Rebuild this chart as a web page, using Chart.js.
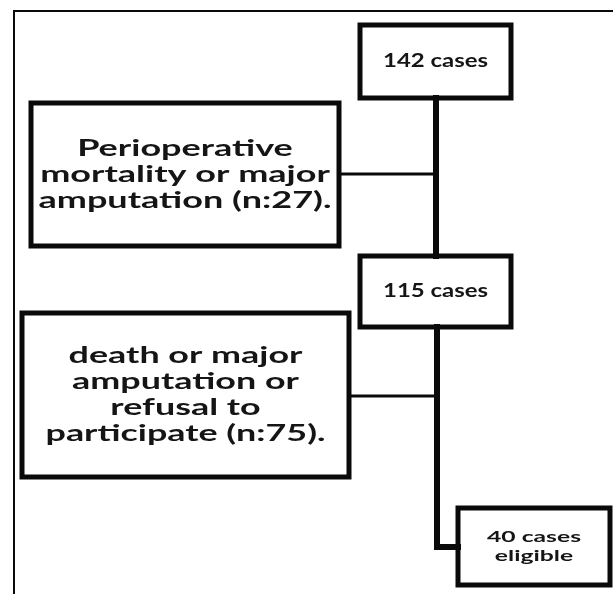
<!DOCTYPE html>
<html>
<head>
<meta charset="utf-8">
<script src="https://cdn.jsdelivr.net/npm/chart.js@4/dist/chart.umd.min.js"></script>
<style>
    body { margin: 0; background: #fff; }
    #wrap { width: 613px; height: 594px; }
</style>
</head>
<body>
<div id="wrap"><canvas id="flow-chart" width="613" height="594"></canvas></div>
<script>
// data: patients at each stage and patients excluded between stages
const stageCounts = [142, 115, 40];
const stageSuffix = ['cases', 'cases', 'cases eligible'];
const exclusionCounts = [27, 75];
const exclusionLines = [
    ['Perioperative', 'mortality or major', 'amputation'],
    ['death or major', 'amputation or', 'refusal to', 'participate']
];

// layout (canvas pixels, y down)
const stageBoxes = [
    { x1: 360, y1: 25, x2: 511, y2: 98 },
    { x1: 360, y1: 256, x2: 511, y2: 327 },
    { x1: 458, y1: 508, x2: 610, y2: 585 }
];
const exclusionBoxes = [
    { x1: 31, y1: 103, x2: 339, y2: 246 },
    { x1: 22, y1: 313, x2: 349, y2: 477 }
];
// text: font size, line height, width of the widest line
const stageText_ = [
    { size: 18, lh: 19, w: 105 },
    { size: 18, lh: 19, w: 105 },
    { size: 16, lh: 19, w: 94 }
];
const exclusionText_ = [
    { size: 23, lh: 26, w: 293 },
    { size: 23, lh: 26, w: 280 }
];
const trunkX = [436, 437];
const exitY = 547;

function rectPoints(b) {
    return [
        { x: b.x1, y: b.y1 }, { x: b.x2, y: b.y1 }, { x: b.x2, y: b.y2 },
        { x: b.x1, y: b.y2 }, { x: b.x1, y: b.y1 }
    ];
}

function lineSet(points, width) {
    return {
        type: 'line',
        data: points,
        borderColor: '#0a0a0a',
        borderWidth: width,
        borderJoinStyle: 'miter',
        borderCapStyle: 'square',
        pointRadius: 0,
        fill: false,
        tension: 0
    };
}

// text for every box, built from the counts
function stageText(i) {
    const c = stageCounts[i];
    if (i === stageCounts.length - 1) return [c + ' cases', 'eligible'];
    return [c + ' ' + stageSuffix[i]];
}
function exclusionText(i) {
    const lines = exclusionLines[i].slice();
    const last = lines.length - 1;
    lines[last] = lines[last] + ' (n:' + exclusionCounts[i] + ').';
    return lines;
}

const datasets = [];
// outer frame (only left and top edges are visible)
datasets.push(lineSet([{ x: 14, y: 620 }, { x: 14, y: 11 }, { x: 640, y: 11 }], 2));
stageBoxes.forEach(b => datasets.push(lineSet(rectPoints(b), 5)));
exclusionBoxes.forEach(b => datasets.push(lineSet(rectPoints(b), 5)));
// trunk from stage 1 to stage 2 and exclusion branch
datasets.push(lineSet([{ x: trunkX[0], y: stageBoxes[0].y2 }, { x: trunkX[0], y: stageBoxes[1].y1 }], 6));
datasets.push(lineSet([{ x: exclusionBoxes[0].x2, y: 174 }, { x: trunkX[0], y: 174 }], 3));
// trunk from stage 2 to stage 3 and exclusion branch
datasets.push(lineSet([{ x: trunkX[1], y: stageBoxes[1].y2 }, { x: trunkX[1], y: exitY }, { x: stageBoxes[2].x1, y: exitY }], 6));
datasets.push(lineSet([{ x: exclusionBoxes[1].x2, y: 396 }, { x: trunkX[1], y: 396 }], 3));

const boxLabels = {
    id: 'boxLabels',
    afterDatasetsDraw(chart) {
        const ctx = chart.ctx;
        const xs = chart.scales.x, ys = chart.scales.y;
        function put(b, lines, st) {
            const cx = xs.getPixelForValue((b.x1 + b.x2) / 2);
            const cy = ys.getPixelForValue((b.y1 + b.y2) / 2);
            ctx.save();
            ctx.fillStyle = '#151515';
            ctx.textAlign = 'center';
            ctx.textBaseline = 'middle';
            ctx.font = 'bold ' + st.size + 'px Lato';
            const widest = Math.max(...lines.map(t => ctx.measureText(t).width));
            const top = cy - (lines.length - 1) * st.lh / 2;
            ctx.translate(cx, top);
            ctx.scale(st.w / widest, 1);
            lines.forEach((t, k) => ctx.fillText(t, 0, k * st.lh));
            ctx.restore();
        }
        stageBoxes.forEach((b, i) => put(b, stageText(i), stageText_[i]));
        exclusionBoxes.forEach((b, i) => put(b, exclusionText(i), exclusionText_[i]));
    }
};

new Chart(document.getElementById('flow-chart'), {
    type: 'scatter',
    data: { datasets: datasets },
    options: {
        responsive: false,
        animation: false,
        layout: { padding: 0 },
        plugins: { legend: { display: false }, tooltip: { enabled: false } },
        scales: {
            x: { type: 'linear', min: 0, max: 613, display: false },
            y: { type: 'linear', min: 0, max: 594, reverse: true, display: false }
        }
    },
    plugins: [boxLabels]
});
</script>
</body>
</html>
